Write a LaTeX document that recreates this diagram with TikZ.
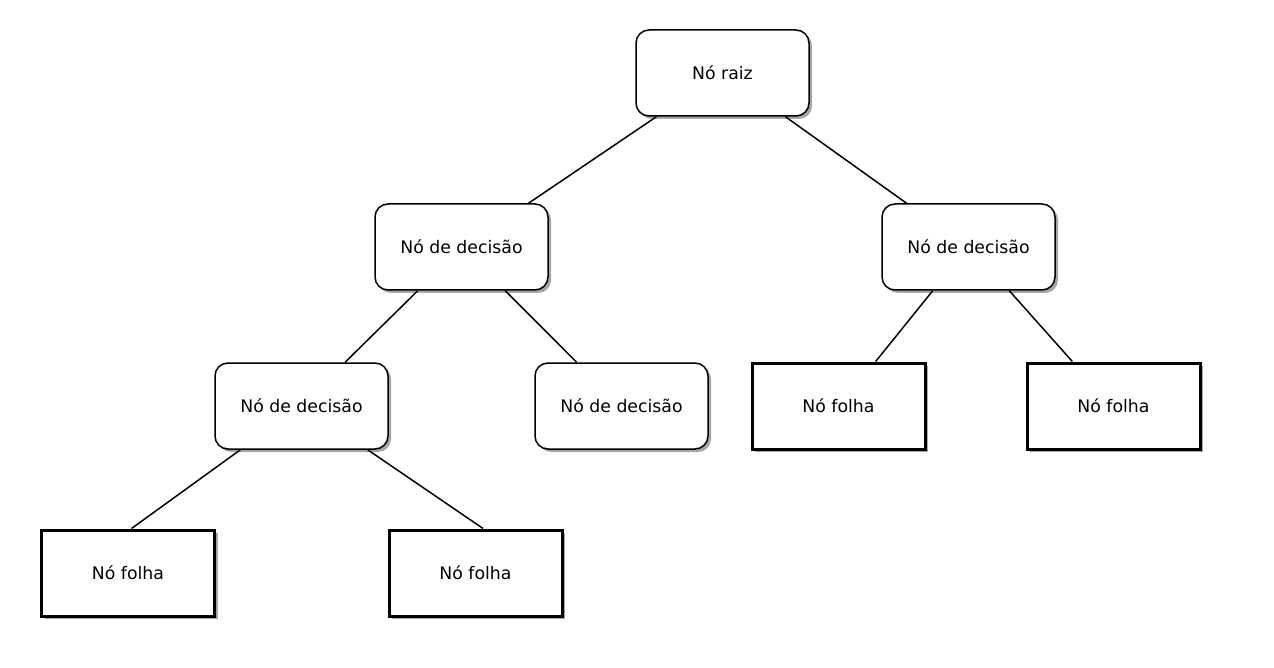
\documentclass[tikz,border=0pt]{standalone}
\usepackage{fontspec}
\setmainfont{DejaVu Sans}
\usetikzlibrary{calc,shadows}
\begin{document}
\begin{tikzpicture}[x=1pt,y=1pt,
  base/.style={draw=black, fill=white, minimum width=173pt, minimum height=86pt, inner sep=0pt,
    font=\fontsize{17.3}{20}\selectfont,
    drop shadow={shadow xshift=3pt, shadow yshift=-3pt, fill=black!35, opacity=1}},
  decbox/.style={base, rounded corners=13pt, line width=1.5pt},
  leafbox/.style={base, line width=3pt},
  edge/.style={draw=black, line width=1.5pt}]
\useasboundingbox (0,0) rectangle (1274,-668);
\node[decbox] (root) at (722.5,-73) {Nó raiz};
\node[decbox] (decL) at (461.5,-247) {Nó de decisão};
\node[decbox] (decR) at (968.5,-247) {Nó de decisão};
\node[decbox] (decLL) at (301.5,-406) {Nó de decisão};
\node[decbox] (decLR) at (621.5,-406) {Nó de decisão};
\node[leafbox] (leafR1) at (838.5,-406) {Nó folha};
\node[leafbox] (leafR2) at (1113.5,-406) {Nó folha};
\node[leafbox] (leafA) at (128,-573) {Nó folha};
\node[leafbox] (leafB) at (475.5,-573) {Nó folha};
\draw[edge] ($(root.south west)!0.121!(root.south east)$) -- ($(decL.north west)!0.884!(decL.north east)$);
\draw[edge] ($(root.south west)!0.861!(root.south east)$) -- ($(decR.north west)!0.145!(decR.north east)$);
\draw[edge] ($(decL.south west)!0.249!(decL.south east)$) -- ($(decLL.north west)!0.75!(decLL.north east)$);
\draw[edge] ($(decL.south west)!0.751!(decL.south east)$) -- ($(decLR.north west)!0.243!(decLR.north east)$);
\draw[edge] ($(decR.south west)!0.295!(decR.south east)$) -- ($(leafR1.north west)!0.711!(leafR1.north east)$);
\draw[edge] ($(decR.south west)!0.734!(decR.south east)$) -- ($(leafR2.north west)!0.266!(leafR2.north east)$);
\draw[edge] ($(decLL.south west)!0.15!(decLL.south east)$) -- ($(leafA.north west)!0.52!(leafA.north east)$);
\draw[edge] ($(decLL.south west)!0.879!(decLL.south east)$) -- ($(leafB.north west)!0.543!(leafB.north east)$);
\end{tikzpicture}
\end{document}
